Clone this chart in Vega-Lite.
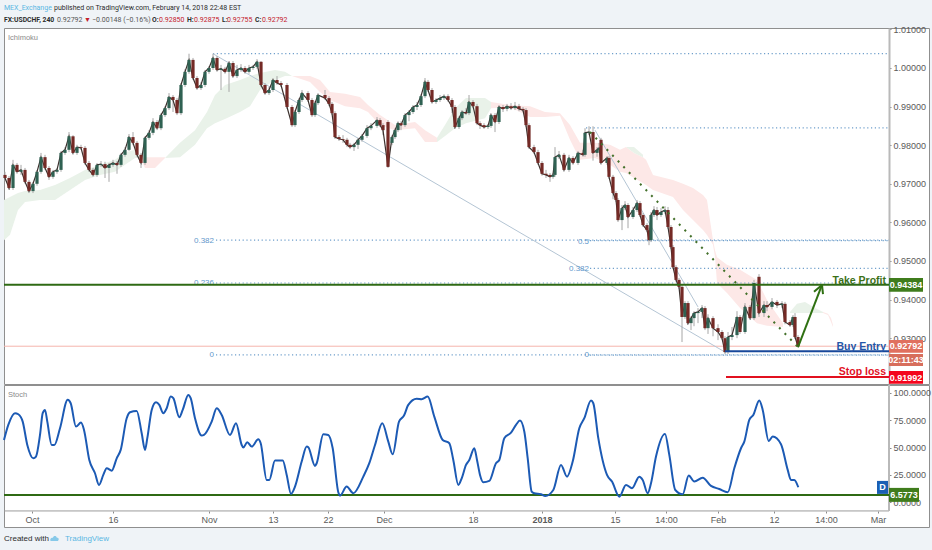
{
  "$schema": "https://vega.github.io/schema/vega-lite/v6.json",
  "background": "#eff3f7",
  "padding": {"left": -1, "top": 0, "right": 3, "bottom": 0},
  "bounds": "flush",
  "spacing": 1,
  "config": {
    "font": "Liberation Sans",
    "axis": {"labelFont": "Liberation Sans", "labelFontSize": 9, "labelColor": "#5a5a5a", "tickColor": "#8a8a8a", "title": null, "grid": false},
    "text": {"font": "Liberation Sans"}
  },
  "datasets": {
    "header": [
      {"pos": 0, "line": 1, "part": "MEX_Exchange", "kind": "user", "weight": "regular"},
      {"pos": 50, "line": 1, "part": "published on TradingView.com, February 14, 2018 22:48 EST", "kind": "plain", "weight": "regular"},
      {"pos": 0, "line": 2, "part": "FX:USDCHF, 240", "kind": "plain", "weight": "bold"},
      {"pos": 53, "line": 2, "part": "0.92792", "kind": "muted", "weight": "regular"},
      {"pos": 80, "line": 2, "part": "▼", "kind": "down", "weight": "regular"},
      {"pos": 88, "line": 2, "part": "−0.00148 (−0.16%)", "kind": "muted", "weight": "regular"},
      {"pos": 148, "line": 2, "part": "O:", "kind": "plain", "weight": "bold"},
      {"pos": 155, "line": 2, "part": "0.92850", "kind": "down", "weight": "regular"},
      {"pos": 183, "line": 2, "part": "H:", "kind": "plain", "weight": "bold"},
      {"pos": 190, "line": 2, "part": "0.92875", "kind": "down", "weight": "regular"},
      {"pos": 218, "line": 2, "part": "L:", "kind": "plain", "weight": "bold"},
      {"pos": 223, "line": 2, "part": "0.92755", "kind": "down", "weight": "regular"},
      {"pos": 251, "line": 2, "part": "C:", "kind": "plain", "weight": "bold"},
      {"pos": 258, "line": 2, "part": "0.92792", "kind": "down", "weight": "regular"}
    ],
    "cloud": [
      {"bar": 0, "a": 0.9658, "b": 0.9554, "span": "g1", "tone": "bull"},
      {"bar": 6, "a": 0.9666, "b": 0.9568, "span": "g1", "tone": "bull"},
      {"bar": 14, "a": 0.9676, "b": 0.9632, "span": "g1", "tone": "bull"},
      {"bar": 21, "a": 0.9681, "b": 0.9653, "span": "g1", "tone": "bull"},
      {"bar": 36, "a": 0.9684, "b": 0.9658, "span": "g1", "tone": "bull"},
      {"bar": 51, "a": 0.9697, "b": 0.9658, "span": "g1", "tone": "bull"},
      {"bar": 66, "a": 0.9715, "b": 0.9684, "span": "g1", "tone": "bull"},
      {"bar": 81, "a": 0.9736, "b": 0.971, "span": "g1", "tone": "bull"},
      {"bar": 96, "a": 0.9749, "b": 0.9723, "span": "g1", "tone": "bull"},
      {"bar": 111, "a": 0.9762, "b": 0.9731, "span": "g1", "tone": "bull"},
      {"bar": 121, "a": 0.9782, "b": 0.9749, "span": "g1", "tone": "bull"},
      {"bar": 131, "a": 0.9788, "b": 0.9767, "span": "g1", "tone": "bull"},
      {"bar": 136, "a": 0.9772, "b": 0.9767, "span": "g1", "tone": "bull"},
      {"bar": 136, "a": 0.9767, "b": 0.9767, "span": "r1", "tone": "bear"},
      {"bar": 141, "a": 0.9769, "b": 0.9741, "span": "r1", "tone": "bear"},
      {"bar": 151, "a": 0.9769, "b": 0.9741, "span": "r1", "tone": "bear"},
      {"bar": 161, "a": 0.9769, "b": 0.9767, "span": "r1", "tone": "bear"},
      {"bar": 161, "a": 0.9767, "b": 0.9767, "span": "g2", "tone": "bull"},
      {"bar": 176, "a": 0.9806, "b": 0.9769, "span": "g2", "tone": "bull"},
      {"bar": 191, "a": 0.9839, "b": 0.9801, "span": "g2", "tone": "bull"},
      {"bar": 203, "a": 0.9886, "b": 0.9844, "span": "g2", "tone": "bull"},
      {"bar": 211, "a": 0.993, "b": 0.9857, "span": "g2", "tone": "bull"},
      {"bar": 221, "a": 0.9956, "b": 0.9868, "span": "g2", "tone": "bull"},
      {"bar": 236, "a": 0.9969, "b": 0.9886, "span": "g2", "tone": "bull"},
      {"bar": 246, "a": 0.9979, "b": 0.9901, "span": "g2", "tone": "bull"},
      {"bar": 256, "a": 0.9987, "b": 0.9943, "span": "g2", "tone": "bull"},
      {"bar": 271, "a": 0.9995, "b": 0.9969, "span": "g2", "tone": "bull"},
      {"bar": 281, "a": 0.999, "b": 0.9979, "span": "g2", "tone": "bull"},
      {"bar": 288, "a": 0.9979, "b": 0.9979, "span": "g2", "tone": "bull"},
      {"bar": 288, "a": 0.9979, "b": 0.9979, "span": "r2", "tone": "bear"},
      {"bar": 306, "a": 0.9979, "b": 0.9964, "span": "r2", "tone": "bear"},
      {"bar": 316, "a": 0.9969, "b": 0.9938, "span": "r2", "tone": "bear"},
      {"bar": 326, "a": 0.9938, "b": 0.9917, "span": "r2", "tone": "bear"},
      {"bar": 341, "a": 0.9933, "b": 0.9901, "span": "r2", "tone": "bear"},
      {"bar": 356, "a": 0.9925, "b": 0.9896, "span": "r2", "tone": "bear"},
      {"bar": 364, "a": 0.9904, "b": 0.9886, "span": "r2", "tone": "bear"},
      {"bar": 376, "a": 0.9878, "b": 0.9852, "span": "r2", "tone": "bear"},
      {"bar": 391, "a": 0.9852, "b": 0.9839, "span": "r2", "tone": "bear"},
      {"bar": 411, "a": 0.986, "b": 0.9844, "span": "r2", "tone": "bear"},
      {"bar": 421, "a": 0.9839, "b": 0.9808, "span": "r2", "tone": "bear"},
      {"bar": 433, "a": 0.9819, "b": 0.9808, "span": "r2", "tone": "bear"},
      {"bar": 433, "a": 0.9819, "b": 0.9808, "span": "g3", "tone": "bull"},
      {"bar": 441, "a": 0.9852, "b": 0.9824, "span": "g3", "tone": "bull"},
      {"bar": 451, "a": 0.9896, "b": 0.9844, "span": "g3", "tone": "bull"},
      {"bar": 462, "a": 0.9922, "b": 0.9857, "span": "g3", "tone": "bull"},
      {"bar": 481, "a": 0.9922, "b": 0.987, "span": "g3", "tone": "bull"},
      {"bar": 487, "a": 0.9912, "b": 0.9896, "span": "g3", "tone": "bull"},
      {"bar": 487, "a": 0.9912, "b": 0.9896, "span": "r3", "tone": "bear"},
      {"bar": 506, "a": 0.9904, "b": 0.9899, "span": "r3", "tone": "bear"},
      {"bar": 526, "a": 0.9901, "b": 0.9873, "span": "r3", "tone": "bear"},
      {"bar": 541, "a": 0.9886, "b": 0.9873, "span": "r3", "tone": "bear"},
      {"bar": 556, "a": 0.9883, "b": 0.9876, "span": "r3", "tone": "bear"},
      {"bar": 566, "a": 0.9852, "b": 0.9814, "span": "r3", "tone": "bear"},
      {"bar": 576, "a": 0.9806, "b": 0.9762, "span": "r3", "tone": "bear"},
      {"bar": 591, "a": 0.9806, "b": 0.9767, "span": "r3", "tone": "bear"},
      {"bar": 606, "a": 0.9801, "b": 0.9749, "span": "r3", "tone": "bear"},
      {"bar": 616, "a": 0.9788, "b": 0.9731, "span": "r3", "tone": "bear"},
      {"bar": 622, "a": 0.9795, "b": 0.9728, "span": "r3", "tone": "bear"},
      {"bar": 630, "a": 0.978, "b": 0.9715, "span": "r3", "tone": "bear"},
      {"bar": 639, "a": 0.9769, "b": 0.9702, "span": "r3", "tone": "bear"},
      {"bar": 642, "a": 0.9762, "b": 0.9697, "span": "r3", "tone": "bear"},
      {"bar": 649, "a": 0.9723, "b": 0.9684, "span": "r3", "tone": "bear"},
      {"bar": 669, "a": 0.971, "b": 0.9666, "span": "r3", "tone": "bear"},
      {"bar": 679, "a": 0.97, "b": 0.9632, "span": "r3", "tone": "bear"},
      {"bar": 689, "a": 0.9689, "b": 0.9606, "span": "r3", "tone": "bear"},
      {"bar": 699, "a": 0.9671, "b": 0.958, "span": "r3", "tone": "bear"},
      {"bar": 703, "a": 0.9658, "b": 0.9567, "span": "r3", "tone": "bear"},
      {"bar": 709, "a": 0.9554, "b": 0.9542, "span": "r3", "tone": "bear"},
      {"bar": 711, "a": 0.9528, "b": 0.951, "span": "r3", "tone": "bear"},
      {"bar": 713, "a": 0.951, "b": 0.9443, "span": "r3", "tone": "bear"},
      {"bar": 723, "a": 0.949, "b": 0.9417, "span": "r3", "tone": "bear"},
      {"bar": 736, "a": 0.9477, "b": 0.9378, "span": "r3", "tone": "bear"},
      {"bar": 753, "a": 0.9451, "b": 0.9339, "span": "r3", "tone": "bear"},
      {"bar": 763, "a": 0.9399, "b": 0.9332, "span": "r3", "tone": "bear"},
      {"bar": 779, "a": 0.9339, "b": 0.9329, "span": "r3", "tone": "bear"},
      {"bar": 622, "a": 0.9795, "b": 0.9795, "span": "g4", "tone": "bull"},
      {"bar": 630, "a": 0.9795, "b": 0.978, "span": "g4", "tone": "bull"},
      {"bar": 639, "a": 0.9775, "b": 0.9769, "span": "g4", "tone": "bull"},
      {"bar": 786, "a": 0.9368, "b": 0.9365, "span": "g5", "tone": "bull"},
      {"bar": 793, "a": 0.9389, "b": 0.9365, "span": "g5", "tone": "bull"},
      {"bar": 801, "a": 0.9394, "b": 0.9365, "span": "g5", "tone": "bull"},
      {"bar": 811, "a": 0.9378, "b": 0.9365, "span": "g5", "tone": "bull"},
      {"bar": 819, "a": 0.9368, "b": 0.9365, "span": "g5", "tone": "bull"},
      {"bar": 819, "a": 0.9368, "b": 0.9365, "span": "r4", "tone": "bear"},
      {"bar": 824, "a": 0.9363, "b": 0.936, "span": "r4", "tone": "bear"},
      {"bar": 827, "a": 0.9352, "b": 0.9342, "span": "r4", "tone": "bear"},
      {"bar": 829, "a": 0.9334, "b": 0.9329, "span": "r4", "tone": "bear"}
    ],
    "candles": [
      {"bar": 1, "o": 0.9723, "h": 0.9731, "l": 0.9707, "c": 0.9715},
      {"bar": 5, "o": 0.9715, "h": 0.972, "l": 0.9684, "c": 0.9689},
      {"bar": 9, "o": 0.9689, "h": 0.9762, "l": 0.9684, "c": 0.9749},
      {"bar": 13, "o": 0.9749, "h": 0.9754, "l": 0.9726, "c": 0.9731},
      {"bar": 17, "o": 0.9731, "h": 0.9749, "l": 0.9723, "c": 0.9736},
      {"bar": 21, "o": 0.9736, "h": 0.9741, "l": 0.97, "c": 0.9705},
      {"bar": 25, "o": 0.9705, "h": 0.971, "l": 0.9676, "c": 0.9681},
      {"bar": 29, "o": 0.9681, "h": 0.9705, "l": 0.9676, "c": 0.97},
      {"bar": 33, "o": 0.97, "h": 0.9736, "l": 0.9695, "c": 0.9731},
      {"bar": 37, "o": 0.9731, "h": 0.978, "l": 0.9726, "c": 0.9769},
      {"bar": 41, "o": 0.9769, "h": 0.9775, "l": 0.9736, "c": 0.9741},
      {"bar": 45, "o": 0.9741, "h": 0.9746, "l": 0.971, "c": 0.9718},
      {"bar": 49, "o": 0.9718, "h": 0.9736, "l": 0.9713, "c": 0.9731},
      {"bar": 53, "o": 0.9731, "h": 0.9741, "l": 0.9726, "c": 0.9736},
      {"bar": 57, "o": 0.9736, "h": 0.9785, "l": 0.9731, "c": 0.978},
      {"bar": 61, "o": 0.978, "h": 0.9795, "l": 0.9775, "c": 0.9788},
      {"bar": 65, "o": 0.9788, "h": 0.9834, "l": 0.9782, "c": 0.9823},
      {"bar": 69, "o": 0.9823, "h": 0.9826, "l": 0.9775, "c": 0.978},
      {"bar": 73, "o": 0.978, "h": 0.9801, "l": 0.9775, "c": 0.9795},
      {"bar": 77, "o": 0.9795, "h": 0.9801, "l": 0.9788, "c": 0.9793},
      {"bar": 81, "o": 0.9793, "h": 0.9798, "l": 0.9749, "c": 0.9754},
      {"bar": 85, "o": 0.9754, "h": 0.9759, "l": 0.9731, "c": 0.9736},
      {"bar": 89, "o": 0.9736, "h": 0.9741, "l": 0.9718, "c": 0.9723},
      {"bar": 93, "o": 0.9723, "h": 0.9754, "l": 0.9718, "c": 0.9749},
      {"bar": 97, "o": 0.9749, "h": 0.9759, "l": 0.9744, "c": 0.9751},
      {"bar": 101, "o": 0.9751, "h": 0.9757, "l": 0.9715, "c": 0.9741},
      {"bar": 105, "o": 0.9741, "h": 0.9754, "l": 0.9705, "c": 0.9749},
      {"bar": 109, "o": 0.9749, "h": 0.9762, "l": 0.9744, "c": 0.9754},
      {"bar": 113, "o": 0.9754, "h": 0.9759, "l": 0.9726, "c": 0.9749},
      {"bar": 117, "o": 0.9749, "h": 0.978, "l": 0.9744, "c": 0.9775},
      {"bar": 121, "o": 0.9775, "h": 0.9795, "l": 0.977, "c": 0.9788},
      {"bar": 125, "o": 0.9788, "h": 0.9829, "l": 0.9785, "c": 0.9821},
      {"bar": 129, "o": 0.9821, "h": 0.9834, "l": 0.98, "c": 0.9806},
      {"bar": 133, "o": 0.9806, "h": 0.9811, "l": 0.977, "c": 0.9775},
      {"bar": 137, "o": 0.9775, "h": 0.978, "l": 0.9741, "c": 0.9754},
      {"bar": 141, "o": 0.9754, "h": 0.9823, "l": 0.9749, "c": 0.9819},
      {"bar": 145, "o": 0.9819, "h": 0.9839, "l": 0.9814, "c": 0.9832},
      {"bar": 149, "o": 0.9832, "h": 0.987, "l": 0.9826, "c": 0.986},
      {"bar": 153, "o": 0.986, "h": 0.9865, "l": 0.9839, "c": 0.9844},
      {"bar": 157, "o": 0.9844, "h": 0.9883, "l": 0.9839, "c": 0.9878},
      {"bar": 161, "o": 0.9878, "h": 0.9901, "l": 0.9873, "c": 0.9896},
      {"bar": 165, "o": 0.9896, "h": 0.9935, "l": 0.9891, "c": 0.9925},
      {"bar": 169, "o": 0.9925, "h": 0.993, "l": 0.9886, "c": 0.9917},
      {"bar": 173, "o": 0.9917, "h": 0.9922, "l": 0.9878, "c": 0.9883},
      {"bar": 177, "o": 0.9883, "h": 0.9961, "l": 0.9878, "c": 0.9956},
      {"bar": 181, "o": 0.9956, "h": 0.9997, "l": 0.9951, "c": 0.999},
      {"bar": 185, "o": 0.999, "h": 1.0037, "l": 0.9985, "c": 1.0021},
      {"bar": 189, "o": 1.0021, "h": 1.0026, "l": 0.9969, "c": 0.9974},
      {"bar": 193, "o": 0.9974, "h": 0.9979, "l": 0.9943, "c": 0.9948},
      {"bar": 197, "o": 0.9948, "h": 0.9964, "l": 0.9943, "c": 0.9956},
      {"bar": 201, "o": 0.9956, "h": 0.9995, "l": 0.9951, "c": 0.999},
      {"bar": 205, "o": 0.999, "h": 1.0005, "l": 0.9985, "c": 1},
      {"bar": 209, "o": 1, "h": 1.0037, "l": 0.9995, "c": 1.0026},
      {"bar": 213, "o": 1.0026, "h": 1.0031, "l": 0.999, "c": 0.9995},
      {"bar": 217, "o": 0.9995, "h": 1.0008, "l": 0.9943, "c": 0.9998},
      {"bar": 221, "o": 0.9998, "h": 1.0003, "l": 0.9985, "c": 0.999},
      {"bar": 225, "o": 0.999, "h": 1.0018, "l": 0.9938, "c": 1.0013},
      {"bar": 229, "o": 1.0013, "h": 1.0018, "l": 0.9974, "c": 0.9979},
      {"bar": 233, "o": 0.9979, "h": 1.0008, "l": 0.9974, "c": 0.9995},
      {"bar": 237, "o": 0.9995, "h": 1.001, "l": 0.999, "c": 1},
      {"bar": 241, "o": 1, "h": 1.0005, "l": 0.9985, "c": 0.999},
      {"bar": 245, "o": 0.999, "h": 1.0008, "l": 0.9985, "c": 1},
      {"bar": 249, "o": 1, "h": 1.0008, "l": 0.9995, "c": 1.0003},
      {"bar": 253, "o": 1.0003, "h": 1.0023, "l": 0.9998, "c": 1.0016},
      {"bar": 257, "o": 1.0016, "h": 1.0018, "l": 0.9951, "c": 0.9956},
      {"bar": 261, "o": 0.9956, "h": 0.9961, "l": 0.993, "c": 0.9935},
      {"bar": 265, "o": 0.9935, "h": 0.9951, "l": 0.993, "c": 0.9943},
      {"bar": 269, "o": 0.9943, "h": 0.9974, "l": 0.9938, "c": 0.9969},
      {"bar": 273, "o": 0.9969, "h": 0.9979, "l": 0.9956, "c": 0.9961},
      {"bar": 277, "o": 0.9961, "h": 0.9966, "l": 0.9951, "c": 0.9956},
      {"bar": 283, "o": 0.9956, "h": 0.9961, "l": 0.9894, "c": 0.9899},
      {"bar": 288, "o": 0.9899, "h": 0.9904, "l": 0.9847, "c": 0.9852},
      {"bar": 291, "o": 0.9852, "h": 0.9891, "l": 0.9847, "c": 0.9886},
      {"bar": 295, "o": 0.9886, "h": 0.9922, "l": 0.9881, "c": 0.9917},
      {"bar": 298, "o": 0.9917, "h": 0.9943, "l": 0.9912, "c": 0.9935},
      {"bar": 304, "o": 0.9935, "h": 0.994, "l": 0.9912, "c": 0.9917},
      {"bar": 308, "o": 0.9917, "h": 0.9922, "l": 0.9873, "c": 0.9878},
      {"bar": 311, "o": 0.9878, "h": 0.9914, "l": 0.9873, "c": 0.9909},
      {"bar": 314, "o": 0.9909, "h": 0.9935, "l": 0.9904, "c": 0.993},
      {"bar": 321, "o": 0.993, "h": 0.9943, "l": 0.9917, "c": 0.9922},
      {"bar": 325, "o": 0.9922, "h": 0.9927, "l": 0.9901, "c": 0.9907},
      {"bar": 328, "o": 0.9907, "h": 0.9912, "l": 0.9878, "c": 0.9883},
      {"bar": 331, "o": 0.9883, "h": 0.9888, "l": 0.9816, "c": 0.9821},
      {"bar": 335, "o": 0.9821, "h": 0.9826, "l": 0.9811, "c": 0.9816},
      {"bar": 339, "o": 0.9816, "h": 0.9826, "l": 0.9806, "c": 0.9814},
      {"bar": 343, "o": 0.9814, "h": 0.9819, "l": 0.9795, "c": 0.9801},
      {"bar": 346, "o": 0.9801, "h": 0.9806, "l": 0.979, "c": 0.9795},
      {"bar": 350, "o": 0.9795, "h": 0.9806, "l": 0.9785, "c": 0.9801},
      {"bar": 354, "o": 0.9801, "h": 0.9819, "l": 0.979, "c": 0.9814},
      {"bar": 358, "o": 0.9814, "h": 0.9829, "l": 0.9809, "c": 0.9824},
      {"bar": 363, "o": 0.9824, "h": 0.9852, "l": 0.9819, "c": 0.9844},
      {"bar": 367, "o": 0.9844, "h": 0.9857, "l": 0.9839, "c": 0.985},
      {"bar": 373, "o": 0.985, "h": 0.9873, "l": 0.9845, "c": 0.9865},
      {"bar": 376, "o": 0.9865, "h": 0.987, "l": 0.9847, "c": 0.9852},
      {"bar": 379, "o": 0.9852, "h": 0.9857, "l": 0.9826, "c": 0.9839},
      {"bar": 384, "o": 0.986, "h": 0.9865, "l": 0.9741, "c": 0.9744},
      {"bar": 388, "o": 0.9806, "h": 0.9826, "l": 0.98, "c": 0.9821},
      {"bar": 391, "o": 0.9821, "h": 0.9844, "l": 0.9816, "c": 0.9839},
      {"bar": 394, "o": 0.9839, "h": 0.9862, "l": 0.9834, "c": 0.9857},
      {"bar": 397, "o": 0.9857, "h": 0.9862, "l": 0.9839, "c": 0.9852},
      {"bar": 401, "o": 0.9852, "h": 0.9883, "l": 0.9847, "c": 0.9878},
      {"bar": 405, "o": 0.9878, "h": 0.9891, "l": 0.9862, "c": 0.9886},
      {"bar": 409, "o": 0.9886, "h": 0.9904, "l": 0.9881, "c": 0.9899},
      {"bar": 413, "o": 0.9899, "h": 0.9912, "l": 0.9891, "c": 0.9904},
      {"bar": 417, "o": 0.9904, "h": 0.9932, "l": 0.9899, "c": 0.9927},
      {"bar": 421, "o": 0.9927, "h": 0.9974, "l": 0.9922, "c": 0.9964},
      {"bar": 424, "o": 0.9964, "h": 0.9969, "l": 0.9938, "c": 0.9943},
      {"bar": 428, "o": 0.9943, "h": 0.9948, "l": 0.9907, "c": 0.9912},
      {"bar": 432, "o": 0.9912, "h": 0.9922, "l": 0.9907, "c": 0.9917},
      {"bar": 436, "o": 0.9917, "h": 0.993, "l": 0.9912, "c": 0.9922},
      {"bar": 440, "o": 0.9922, "h": 0.9932, "l": 0.9917, "c": 0.9927},
      {"bar": 444, "o": 0.9927, "h": 0.9932, "l": 0.9912, "c": 0.9917},
      {"bar": 448, "o": 0.9917, "h": 0.9922, "l": 0.9883, "c": 0.9899},
      {"bar": 451, "o": 0.9899, "h": 0.9904, "l": 0.9842, "c": 0.9847},
      {"bar": 455, "o": 0.9847, "h": 0.9875, "l": 0.9842, "c": 0.987},
      {"bar": 458, "o": 0.987, "h": 0.9891, "l": 0.9865, "c": 0.9886},
      {"bar": 462, "o": 0.9886, "h": 0.9896, "l": 0.9878, "c": 0.9883},
      {"bar": 465, "o": 0.9883, "h": 0.993, "l": 0.9878, "c": 0.9912},
      {"bar": 469, "o": 0.9912, "h": 0.9917, "l": 0.9896, "c": 0.9901},
      {"bar": 473, "o": 0.9901, "h": 0.9907, "l": 0.9852, "c": 0.9857},
      {"bar": 476, "o": 0.9857, "h": 0.9862, "l": 0.9842, "c": 0.9852},
      {"bar": 480, "o": 0.9852, "h": 0.9857, "l": 0.9842, "c": 0.9847},
      {"bar": 484, "o": 0.9847, "h": 0.9855, "l": 0.9842, "c": 0.985},
      {"bar": 487, "o": 0.985, "h": 0.9883, "l": 0.9845, "c": 0.9878},
      {"bar": 491, "o": 0.9878, "h": 0.9883, "l": 0.9834, "c": 0.986},
      {"bar": 495, "o": 0.986, "h": 0.9904, "l": 0.9855, "c": 0.9899},
      {"bar": 499, "o": 0.9899, "h": 0.9904, "l": 0.9886, "c": 0.9894},
      {"bar": 503, "o": 0.9894, "h": 0.9907, "l": 0.9888, "c": 0.9901},
      {"bar": 507, "o": 0.9901, "h": 0.9909, "l": 0.9891, "c": 0.9896},
      {"bar": 511, "o": 0.9896, "h": 0.9912, "l": 0.9891, "c": 0.9901},
      {"bar": 515, "o": 0.9901, "h": 0.9907, "l": 0.9888, "c": 0.9894},
      {"bar": 519, "o": 0.9894, "h": 0.9899, "l": 0.9886, "c": 0.9891},
      {"bar": 522, "o": 0.9891, "h": 0.9896, "l": 0.9847, "c": 0.9852},
      {"bar": 525, "o": 0.9852, "h": 0.9857, "l": 0.979, "c": 0.9795},
      {"bar": 530, "o": 0.9795, "h": 0.9801, "l": 0.9777, "c": 0.9782},
      {"bar": 534, "o": 0.9782, "h": 0.9788, "l": 0.9749, "c": 0.9754},
      {"bar": 538, "o": 0.9754, "h": 0.9759, "l": 0.9721, "c": 0.9726},
      {"bar": 542, "o": 0.9726, "h": 0.9736, "l": 0.9715, "c": 0.9723},
      {"bar": 546, "o": 0.9723, "h": 0.9728, "l": 0.9705, "c": 0.9718},
      {"bar": 549, "o": 0.9718, "h": 0.9728, "l": 0.9713, "c": 0.9723},
      {"bar": 551, "o": 0.9723, "h": 0.9795, "l": 0.9718, "c": 0.9769},
      {"bar": 555, "o": 0.9769, "h": 0.9785, "l": 0.9764, "c": 0.9775},
      {"bar": 560, "o": 0.9775, "h": 0.978, "l": 0.9731, "c": 0.9736},
      {"bar": 565, "o": 0.9736, "h": 0.9775, "l": 0.9731, "c": 0.9767},
      {"bar": 569, "o": 0.9767, "h": 0.9772, "l": 0.9749, "c": 0.9754},
      {"bar": 574, "o": 0.9754, "h": 0.9785, "l": 0.9749, "c": 0.978},
      {"bar": 579, "o": 0.978, "h": 0.9788, "l": 0.977, "c": 0.9775},
      {"bar": 581, "o": 0.9775, "h": 0.9844, "l": 0.977, "c": 0.9832},
      {"bar": 585, "o": 0.9832, "h": 0.9849, "l": 0.9826, "c": 0.9834},
      {"bar": 589, "o": 0.9834, "h": 0.9849, "l": 0.976, "c": 0.978},
      {"bar": 593, "o": 0.978, "h": 0.9795, "l": 0.977, "c": 0.9788},
      {"bar": 595, "o": 0.9788, "h": 0.9806, "l": 0.9782, "c": 0.9793},
      {"bar": 597, "o": 0.9814, "h": 0.9819, "l": 0.9749, "c": 0.9754},
      {"bar": 603, "o": 0.9754, "h": 0.9772, "l": 0.9749, "c": 0.9767},
      {"bar": 605, "o": 0.9767, "h": 0.9772, "l": 0.9713, "c": 0.9718},
      {"bar": 609, "o": 0.9718, "h": 0.9723, "l": 0.966, "c": 0.9676},
      {"bar": 612, "o": 0.9676, "h": 0.9681, "l": 0.9653, "c": 0.9658},
      {"bar": 614, "o": 0.9658, "h": 0.9663, "l": 0.9601, "c": 0.9606},
      {"bar": 618, "o": 0.9606, "h": 0.9645, "l": 0.958, "c": 0.9637},
      {"bar": 621, "o": 0.9637, "h": 0.9655, "l": 0.9632, "c": 0.9645},
      {"bar": 624, "o": 0.9645, "h": 0.965, "l": 0.9585, "c": 0.9614},
      {"bar": 629, "o": 0.9614, "h": 0.964, "l": 0.9609, "c": 0.9632},
      {"bar": 633, "o": 0.9632, "h": 0.9658, "l": 0.9627, "c": 0.965},
      {"bar": 636, "o": 0.965, "h": 0.9655, "l": 0.9614, "c": 0.9619},
      {"bar": 639, "o": 0.9619, "h": 0.9624, "l": 0.9588, "c": 0.9593},
      {"bar": 643, "o": 0.9593, "h": 0.9598, "l": 0.9575, "c": 0.958},
      {"bar": 645, "o": 0.958, "h": 0.9585, "l": 0.9541, "c": 0.9554},
      {"bar": 647, "o": 0.9554, "h": 0.9627, "l": 0.9549, "c": 0.9619},
      {"bar": 650, "o": 0.9619, "h": 0.9642, "l": 0.9614, "c": 0.9632},
      {"bar": 653, "o": 0.9632, "h": 0.964, "l": 0.9606, "c": 0.9619},
      {"bar": 657, "o": 0.9619, "h": 0.9637, "l": 0.9614, "c": 0.9627},
      {"bar": 661, "o": 0.9627, "h": 0.9642, "l": 0.9622, "c": 0.9632},
      {"bar": 664, "o": 0.9632, "h": 0.964, "l": 0.9583, "c": 0.9588},
      {"bar": 667, "o": 0.9588, "h": 0.9593, "l": 0.9531, "c": 0.9536},
      {"bar": 669, "o": 0.9536, "h": 0.9541, "l": 0.9479, "c": 0.9484},
      {"bar": 672, "o": 0.9484, "h": 0.9489, "l": 0.9446, "c": 0.9451},
      {"bar": 675, "o": 0.9451, "h": 0.9456, "l": 0.9428, "c": 0.9433},
      {"bar": 678, "o": 0.9433, "h": 0.9438, "l": 0.929, "c": 0.9355},
      {"bar": 681, "o": 0.9355, "h": 0.9396, "l": 0.935, "c": 0.9391},
      {"bar": 684, "o": 0.9391, "h": 0.9396, "l": 0.9334, "c": 0.9339},
      {"bar": 687, "o": 0.9339, "h": 0.9357, "l": 0.9321, "c": 0.9352},
      {"bar": 690, "o": 0.9352, "h": 0.937, "l": 0.9331, "c": 0.9365},
      {"bar": 694, "o": 0.9365, "h": 0.9378, "l": 0.9339, "c": 0.9368},
      {"bar": 698, "o": 0.9368, "h": 0.9386, "l": 0.9352, "c": 0.9378},
      {"bar": 701, "o": 0.9378, "h": 0.9383, "l": 0.9321, "c": 0.9326},
      {"bar": 704, "o": 0.9326, "h": 0.9362, "l": 0.9311, "c": 0.9352},
      {"bar": 709, "o": 0.9352, "h": 0.9357, "l": 0.9305, "c": 0.9326},
      {"bar": 714, "o": 0.9326, "h": 0.9336, "l": 0.9295, "c": 0.9316},
      {"bar": 718, "o": 0.9316, "h": 0.9321, "l": 0.9295, "c": 0.93},
      {"bar": 721, "o": 0.93, "h": 0.9305, "l": 0.9259, "c": 0.9264},
      {"bar": 724, "o": 0.9264, "h": 0.9316, "l": 0.9259, "c": 0.9303},
      {"bar": 728, "o": 0.9303, "h": 0.9329, "l": 0.9295, "c": 0.9308},
      {"bar": 733, "o": 0.9308, "h": 0.937, "l": 0.93, "c": 0.9355},
      {"bar": 736, "o": 0.9355, "h": 0.936, "l": 0.9311, "c": 0.9316},
      {"bar": 741, "o": 0.9316, "h": 0.9391, "l": 0.9311, "c": 0.9381},
      {"bar": 746, "o": 0.9381, "h": 0.9386, "l": 0.9347, "c": 0.9352},
      {"bar": 750, "o": 0.9352, "h": 0.9451, "l": 0.9347, "c": 0.9443},
      {"bar": 755, "o": 0.9459, "h": 0.9466, "l": 0.9355, "c": 0.9365},
      {"bar": 760, "o": 0.9365, "h": 0.9396, "l": 0.9355, "c": 0.9386},
      {"bar": 763, "o": 0.9386, "h": 0.9396, "l": 0.937, "c": 0.9381},
      {"bar": 768, "o": 0.9381, "h": 0.9404, "l": 0.9375, "c": 0.9394},
      {"bar": 773, "o": 0.9394, "h": 0.9399, "l": 0.9378, "c": 0.9386},
      {"bar": 778, "o": 0.9386, "h": 0.9396, "l": 0.9378, "c": 0.9389},
      {"bar": 781, "o": 0.9389, "h": 0.9394, "l": 0.9336, "c": 0.9342},
      {"bar": 786, "o": 0.9342, "h": 0.9347, "l": 0.9329, "c": 0.9334},
      {"bar": 789, "o": 0.9334, "h": 0.936, "l": 0.9329, "c": 0.9355},
      {"bar": 791, "o": 0.9355, "h": 0.9365, "l": 0.9298, "c": 0.9303},
      {"bar": 794, "o": 0.9303, "h": 0.9308, "l": 0.9275, "c": 0.9279}
    ],
    "levels": [
      {"from": 209, "to": 885, "price": 1.0037},
      {"from": 582, "to": 885, "price": 0.9845},
      {"from": 212, "to": 885, "price": 0.9554},
      {"from": 212, "to": 885, "price": 0.9443},
      {"from": 212, "to": 885, "price": 0.9257},
      {"from": 586, "to": 885, "price": 0.9553},
      {"from": 586, "to": 885, "price": 0.9481},
      {"from": 586, "to": 885, "price": 0.9256}
    ],
    "fibLabels": [
      {"bar": 210, "price": 0.9553, "label": "0.382"},
      {"bar": 210, "price": 0.9442, "label": "0.236"},
      {"bar": 210, "price": 0.9256, "label": "0"},
      {"bar": 585, "price": 0.9548, "label": "0.5"},
      {"bar": 585, "price": 0.9479, "label": "0.382"},
      {"bar": 585, "price": 0.9256, "label": "0"}
    ],
    "trend": [
      {"from": 209, "to": 721, "p1": 1.0037, "p2": 0.9264},
      {"from": 591, "to": 694, "p1": 0.9839, "p2": 0.9381}
    ],
    "arrow": [
      {"from": 794, "to": 818, "p1": 0.9277, "p2": 0.9438},
      {"from": 810, "to": 818, "p1": 0.942, "p2": 0.9438},
      {"from": 819, "to": 818, "p1": 0.9414, "p2": 0.9438}
    ],
    "tags": [
      {"tag": "0.94384", "from": 885, "to": 919, "center": 902, "top": 0.9456, "bottom": 0.942, "mid": 0.9438},
      {"tag": "0.92792", "from": 885, "to": 919, "center": 902, "top": 0.9295, "bottom": 0.9262, "mid": 0.9279},
      {"tag": "02:11:43", "from": 885, "to": 919, "center": 902, "top": 0.9259, "bottom": 0.9228, "mid": 0.9243},
      {"tag": "0.91992", "from": 885, "to": 919, "center": 902, "top": 0.9215, "bottom": 0.9182, "mid": 0.9198}
    ],
    "stoch": [
      {"bar": 0, "k": 57}, {"bar": 4.3, "k": 70.8}, {"bar": 11, "k": 81.5}, {"bar": 14.3, "k": 80.5}, {"bar": 18.7, "k": 73.8},
      {"bar": 23.3, "k": 52.4}, {"bar": 29.3, "k": 40.2}, {"bar": 32, "k": 41.8}, {"bar": 36, "k": 61.6}, {"bar": 38.7, "k": 81.5},
      {"bar": 41, "k": 84.5}, {"bar": 43.3, "k": 73.8}, {"bar": 47.7, "k": 52.4}, {"bar": 50.3, "k": 52.4}, {"bar": 56, "k": 67.7},
      {"bar": 63.7, "k": 93.7}, {"bar": 66.7, "k": 90.6}, {"bar": 72, "k": 69.2}, {"bar": 77, "k": 72.9}, {"bar": 80, "k": 66.2},
      {"bar": 85.3, "k": 38.7}, {"bar": 91, "k": 26.5}, {"bar": 95, "k": 15.8}, {"bar": 99.3, "k": 25}, {"bar": 102.7, "k": 31.1},
      {"bar": 107.7, "k": 28.9}, {"bar": 112.7, "k": 40.2}, {"bar": 116.7, "k": 47.9}, {"bar": 122.7, "k": 76.9}, {"bar": 126, "k": 82.4},
      {"bar": 132.7, "k": 83.6}, {"bar": 137.7, "k": 63.1}, {"bar": 141, "k": 47.9}, {"bar": 143.3, "k": 58.6}, {"bar": 147.7, "k": 84.5},
      {"bar": 152, "k": 91.5}, {"bar": 155.3, "k": 89.1}, {"bar": 159.3, "k": 81.5}, {"bar": 162.7, "k": 86}, {"bar": 166.7, "k": 96.7},
      {"bar": 169.3, "k": 95.2}, {"bar": 175.3, "k": 77.8}, {"bar": 178.7, "k": 84.5}, {"bar": 184.3, "k": 98.2}, {"bar": 186.7, "k": 95.2},
      {"bar": 191, "k": 76.9}, {"bar": 197.7, "k": 61}, {"bar": 200, "k": 61.6}, {"bar": 207.7, "k": 73.8}, {"bar": 212.7, "k": 86},
      {"bar": 217.7, "k": 79.9}, {"bar": 226, "k": 61.6}, {"bar": 232, "k": 72.3}, {"bar": 237.7, "k": 52.4}, {"bar": 239.3, "k": 50},
      {"bar": 243.3, "k": 54.9}, {"bar": 247.7, "k": 50.9}, {"bar": 254.3, "k": 57.6}, {"bar": 256.7, "k": 54}, {"bar": 262.7, "k": 20.4},
      {"bar": 265.3, "k": 20.4}, {"bar": 271, "k": 38.1}, {"bar": 278.7, "k": 38.1}, {"bar": 282.7, "k": 25}, {"bar": 287, "k": 7.6},
      {"bar": 291, "k": 14.3}, {"bar": 297.7, "k": 37.2}, {"bar": 302.7, "k": 50.9}, {"bar": 304.3, "k": 50.3}, {"bar": 311, "k": 33.2},
      {"bar": 312.7, "k": 35.7}, {"bar": 319.3, "k": 62.2}, {"bar": 324.3, "k": 61.6}, {"bar": 328.7, "k": 49.4}, {"bar": 334.3, "k": 9.1},
      {"bar": 336, "k": 6}, {"bar": 342.7, "k": 14.3}, {"bar": 349.3, "k": 8.2}, {"bar": 359.3, "k": 23.4}, {"bar": 365.3, "k": 35.7},
      {"bar": 371, "k": 52.4}, {"bar": 378.3, "k": 72.3}, {"bar": 384.3, "k": 55.5}, {"bar": 388.7, "k": 43.9}, {"bar": 395, "k": 73.8},
      {"bar": 400, "k": 79.3}, {"bar": 404.3, "k": 89.1}, {"bar": 412.7, "k": 94.6}, {"bar": 417.7, "k": 94.3}, {"bar": 423.7, "k": 96.7},
      {"bar": 430.3, "k": 78.4}, {"bar": 438.7, "k": 57}, {"bar": 445.3, "k": 54}, {"bar": 449.3, "k": 38.7}, {"bar": 454.3, "k": 15.8},
      {"bar": 457.7, "k": 21.9}, {"bar": 462, "k": 34.1}, {"bar": 465.3, "k": 38.7}, {"bar": 470.3, "k": 49.4}, {"bar": 473, "k": 38.7},
      {"bar": 476, "k": 25}, {"bar": 479.3, "k": 18.3}, {"bar": 485.3, "k": 19.5}, {"bar": 492, "k": 35.7}, {"bar": 495.3, "k": 38.7},
      {"bar": 500.3, "k": 58.6}, {"bar": 507, "k": 63.7}, {"bar": 512, "k": 70.8}, {"bar": 516, "k": 74.7}, {"bar": 520.3, "k": 64.7},
      {"bar": 523.7, "k": 40.2}, {"bar": 527.7, "k": 9.7}, {"bar": 530.3, "k": 8.2}, {"bar": 537, "k": 7.3}, {"bar": 541.3, "k": 5.7},
      {"bar": 549.3, "k": 11.2}, {"bar": 557, "k": 34.1}, {"bar": 563, "k": 23.4}, {"bar": 568.7, "k": 37.2}, {"bar": 575.3, "k": 67.7},
      {"bar": 580.3, "k": 76.9}, {"bar": 587, "k": 93.1}, {"bar": 589.3, "k": 90.6}, {"bar": 594.3, "k": 58.6}, {"bar": 603, "k": 25},
      {"bar": 608, "k": 18.9}, {"bar": 615.3, "k": 5.1}, {"bar": 622, "k": 15.8}, {"bar": 628, "k": 12.8}, {"bar": 635.3, "k": 23.4},
      {"bar": 638.7, "k": 20.4}, {"bar": 643.7, "k": 8.2}, {"bar": 647, "k": 17.3}, {"bar": 652, "k": 41.8}, {"bar": 661, "k": 62.5},
      {"bar": 665.3, "k": 43.3}, {"bar": 671.3, "k": 11.2}, {"bar": 678.7, "k": 7.3}, {"bar": 684.7, "k": 24.4}, {"bar": 690.3, "k": 18.9},
      {"bar": 698.7, "k": 22.5}, {"bar": 707, "k": 14.9}, {"bar": 715.3, "k": 12.1}, {"bar": 723.7, "k": 9.1}, {"bar": 730.3, "k": 31.1},
      {"bar": 737, "k": 49.4}, {"bar": 740.3, "k": 55.5}, {"bar": 745.3, "k": 75.3}, {"bar": 749.3, "k": 79.9}, {"bar": 755.3, "k": 93.1},
      {"bar": 758.7, "k": 84.5}, {"bar": 764.7, "k": 56.1}, {"bar": 768.7, "k": 60.1}, {"bar": 777, "k": 53.1}, {"bar": 783.7, "k": 29.6},
      {"bar": 787, "k": 20.4}, {"bar": 790.3, "k": 20.4}, {"bar": 794.3, "k": 13.7}
    ]
  },
  "vconcat": [
    {
      "width": 925,
      "height": 27,
      "view": {"stroke": null},
      "data": {"name": "header"},
      "encoding": {
        "x": {"field": "pos", "type": "quantitative", "scale": {"domain": [0, 925], "nice": false, "zero": false}, "axis": null},
        "y": {"field": "line", "type": "quantitative", "scale": {"domain": [2.625, 0.375], "nice": false, "zero": false}, "axis": null},
        "text": {"field": "part"},
        "color": {"field": "kind", "type": "nominal", "legend": null, "scale": {"domain": ["user", "plain", "muted", "down"], "range": ["#5ab7e3", "#2b2b2b", "#555555", "#c4202c"]}}
      },
      "layer": [
        {
          "transform": [{"filter": "datum.weight === 'regular'"}],
          "mark": {"type": "text", "align": "left", "baseline": "middle", "font": "Roboto", "fontSize": 7}
        },
        {
          "transform": [{"filter": "datum.weight === 'bold'"}],
          "mark": {"type": "text", "align": "left", "baseline": "middle", "font": "Roboto", "fontSize": 6.8, "fontWeight": "bold"}
        }
      ]
    },
    {
      "width": 925,
      "height": 356,
      "view": {"stroke": "#8f8f8f", "fill": "white"},
      "encoding": {
        "x": {"field": "bar", "type": "quantitative", "scale": {"domain": [0, 925], "nice": false, "zero": false}, "axis": null},
        "y": {
          "field": "price",
          "type": "quantitative",
          "scale": {"domain": [0.91813, 1.01036], "nice": false, "zero": false},
          "axis": {"orient": "right", "offset": -40, "values": [0.93, 0.94, 0.95, 0.96, 0.97, 0.98, 0.99, 1, 1.01], "format": ".5f", "domainColor": "#b9b9b9", "domainWidth": 2, "tickSize": 2, "labelPadding": 2}
        }
      },
      "resolve": {"scale": {"color": "independent"}},
      "layer": [
        {
          "data": {"name": "cloud"},
          "mark": {"type": "area", "orient": "vertical"},
          "encoding": {
            "y": {"field": "a", "type": "quantitative"},
            "y2": {"field": "b"},
            "detail": {"field": "span"},
            "color": {"field": "tone", "type": "nominal", "legend": null, "scale": {"domain": ["bull", "bear"], "range": ["#e9f2e9", "#fde8e7"]}}
          }
        },
        {
          "data": {"values": [{"bar": 0, "to": 885, "price": 0.92792}]},
          "mark": {"type": "rule", "color": "#f5b5ac", "strokeWidth": 1},
          "encoding": {"x2": {"field": "to"}}
        },
        {
          "data": {"name": "levels"},
          "mark": {"type": "rule", "color": "#6f9fcb", "strokeWidth": 1.2, "strokeDash": [1.2, 2.6]},
          "encoding": {"x": {"field": "from", "type": "quantitative"}, "x2": {"field": "to"}}
        },
        {
          "data": {"name": "trend"},
          "mark": {"type": "rule", "color": "#b4c5d4", "strokeWidth": 1},
          "encoding": {"x": {"field": "from", "type": "quantitative"}, "x2": {"field": "to"}, "y": {"field": "p1", "type": "quantitative"}, "y2": {"field": "p2"}}
        },
        {
          "data": {"name": "fibLabels"},
          "mark": {"type": "text", "align": "right", "baseline": "middle", "color": "#5f98cc", "fontSize": 8},
          "encoding": {"text": {"field": "label"}}
        },
        {
          "data": {"name": "candles"},
          "mark": {"type": "rule", "color": "#a6a6a6", "strokeWidth": 1},
          "encoding": {"y": {"field": "h", "type": "quantitative"}, "y2": {"field": "l"}}
        },
        {
          "data": {"name": "candles"},
          "mark": {"type": "line", "color": "#3b302d", "strokeWidth": 1.2},
          "encoding": {"y": {"field": "c", "type": "quantitative"}}
        },
        {
          "data": {"name": "candles"},
          "mark": {"type": "rule", "strokeWidth": 3.2},
          "encoding": {
            "y": {"field": "o", "type": "quantitative"},
            "y2": {"field": "c"},
            "color": {"condition": {"test": "datum.c >= datum.o", "value": "#2f6152"}, "value": "#742a26"}
          }
        },
        {
          "data": {"values": [{"bar": 0, "to": 885, "price": 0.94384}]},
          "mark": {"type": "rule", "color": "#2f6a14", "strokeWidth": 2},
          "encoding": {"x2": {"field": "to"}}
        },
        {
          "data": {"values": [{"bar": 721, "to": 885, "price": 0.9266}]},
          "mark": {"type": "rule", "color": "#17479a", "strokeWidth": 2},
          "encoding": {"x2": {"field": "to"}}
        },
        {
          "data": {"values": [{"bar": 722, "to": 885, "price": 0.91992}]},
          "mark": {"type": "rule", "color": "#e2101f", "strokeWidth": 2},
          "encoding": {"x2": {"field": "to"}}
        },
        {
          "data": {"values": [{"from": 586, "to": 794, "p1": 0.9834, "p2": 0.9277}]},
          "mark": {"type": "rule", "color": "#43702a", "strokeWidth": 2, "strokeDash": [2, 6]},
          "encoding": {"x": {"field": "from", "type": "quantitative"}, "x2": {"field": "to"}, "y": {"field": "p1", "type": "quantitative"}, "y2": {"field": "p2"}}
        },
        {
          "data": {"name": "arrow"},
          "mark": {"type": "rule", "color": "#2f7012", "strokeWidth": 2},
          "encoding": {"x": {"field": "from", "type": "quantitative"}, "x2": {"field": "to"}, "y": {"field": "p1", "type": "quantitative"}, "y2": {"field": "p2"}}
        },
        {
          "data": {"name": "tags"},
          "mark": {"type": "rect"},
          "encoding": {
            "x": {"field": "from", "type": "quantitative"},
            "x2": {"field": "to"},
            "y": {"field": "top", "type": "quantitative"},
            "y2": {"field": "bottom"},
            "color": {"field": "tag", "type": "nominal", "legend": null, "scale": {"domain": ["0.94384", "0.92792", "02:11:43", "0.91992"], "range": ["#3f7c1c", "#e0705f", "#d76e5c", "#f4041c"]}}
          }
        },
        {
          "data": {"name": "tags"},
          "mark": {"type": "text", "align": "center", "baseline": "middle", "color": "white", "fontSize": 9, "fontWeight": "bold"},
          "encoding": {
            "x": {"field": "center", "type": "quantitative"},
            "y": {"field": "mid", "type": "quantitative"},
            "text": {"field": "tag"}
          }
        },
        {
          "data": {"values": [{"bar": 882, "price": 0.9449, "note": "Take Profit"}]},
          "mark": {"type": "text", "align": "right", "baseline": "middle", "color": "#3c7018", "fontSize": 10.5, "fontWeight": "bold"},
          "encoding": {"text": {"field": "note"}}
        },
        {
          "data": {"values": [{"bar": 882, "price": 0.9277, "note": "Buy Entry"}]},
          "mark": {"type": "text", "align": "right", "baseline": "middle", "color": "#2456a8", "fontSize": 10.5, "fontWeight": "bold"},
          "encoding": {"text": {"field": "note"}}
        },
        {
          "data": {"values": [{"bar": 882, "price": 0.9212, "note": "Stop loss"}]},
          "mark": {"type": "text", "align": "right", "baseline": "middle", "color": "#e2101f", "fontSize": 10.5, "fontWeight": "bold"},
          "encoding": {"text": {"field": "note"}}
        },
        {
          "data": {"values": [{"bar": 4, "price": 1.0078, "note": "Ichimoku"}]},
          "mark": {"type": "text", "align": "left", "baseline": "middle", "color": "#8a8a8a", "fontSize": 7.5},
          "encoding": {"text": {"field": "note"}}
        }
      ]
    },
    {
      "width": 925,
      "height": 142,
      "view": {"stroke": "#8f8f8f", "fill": "white"},
      "encoding": {
        "x": {
          "field": "bar",
          "type": "quantitative",
          "scale": {"domain": [0, 925], "nice": false, "zero": false},
          "axis": {
            "orient": "bottom",
            "offset": -16,
            "domain": false,
            "tickSize": 2,
            "labelPadding": 2,
            "values": [28, 109, 205, 269, 324, 380, 469, 538, 611, 662, 714, 770, 822, 874],
            "labelExpr": "{'28':'Oct','109':'16','205':'Nov','269':'13','324':'22','380':'Dec','469':'18','538':'2018','611':'15','662':'14:00','714':'Feb','770':'12','822':'14:00','874':'Mar'}[datum.value]",
            "labelFontWeight": {"condition": {"test": "datum.value === 538", "value": "bold"}, "value": "normal"}
          }
        },
        "y": {
          "field": "k",
          "type": "quantitative",
          "scale": {"domain": [-22.7, 107.3], "nice": false, "zero": false},
          "axis": {"orient": "right", "offset": -40, "domain": false, "values": [0, 25, 50, 75, 100], "format": ".4f", "tickSize": 2, "labelPadding": 2}
        }
      },
      "layer": [
        {
          "data": {"values": [{"bar": 0, "to": 885, "k": -8}]},
          "mark": {"type": "rule", "color": "#9b9b9b", "strokeWidth": 1},
          "encoding": {"x2": {"field": "to"}}
        },
        {
          "data": {"values": [{"bar": 885, "k": 107.3, "k2": -8}]},
          "mark": {"type": "rule", "color": "#b9b9b9", "strokeWidth": 2},
          "encoding": {"y2": {"field": "k2"}}
        },
        {
          "data": {"values": [{"bar": 0, "to": 885, "k": 6.5773}]},
          "mark": {"type": "rule", "color": "#2f6a14", "strokeWidth": 2},
          "encoding": {"x2": {"field": "to"}}
        },
        {
          "data": {"name": "stoch"},
          "mark": {"type": "line", "color": "#1c5ab4", "strokeWidth": 2, "interpolate": "monotone"}
        },
        {
          "data": {"values": [{"bar": 873, "to": 884, "k": 19.5, "k2": 7.6}]},
          "mark": {"type": "rect", "color": "#1a5fb4"},
          "encoding": {"x2": {"field": "to"}, "y2": {"field": "k2"}}
        },
        {
          "data": {"values": [{"bar": 878.5, "k": 13.5, "note": "D"}]},
          "mark": {"type": "text", "align": "center", "baseline": "middle", "color": "white", "fontSize": 9, "fontWeight": "bold"},
          "encoding": {"text": {"field": "note"}}
        },
        {
          "data": {"values": [{"bar": 885, "to": 915, "k": 13.1, "k2": 0.3}]},
          "mark": {"type": "rect", "color": "#3f7c1c"},
          "encoding": {"x2": {"field": "to"}, "y2": {"field": "k2"}}
        },
        {
          "data": {"values": [{"bar": 900, "k": 6.58, "note": "6.5773"}]},
          "mark": {"type": "text", "align": "center", "baseline": "middle", "color": "white", "fontSize": 9, "fontWeight": "bold"},
          "encoding": {"text": {"field": "note"}}
        },
        {
          "data": {"values": [{"bar": 4, "k": 97.8, "note": "Stoch"}]},
          "mark": {"type": "text", "align": "left", "baseline": "middle", "color": "#8a8a8a", "fontSize": 7.5},
          "encoding": {"text": {"field": "note"}}
        }
      ]
    },
    {
      "width": 925,
      "height": 22,
      "view": {"stroke": null},
      "encoding": {
        "x": {"field": "pos", "type": "quantitative", "scale": {"domain": [0, 925], "nice": false, "zero": false}, "axis": null}
      },
      "layer": [
        {
          "data": {"values": [{"pos": 0, "part": "Created with"}]},
          "mark": {"type": "text", "align": "left", "baseline": "middle", "color": "#2b2b2b", "fontSize": 8},
          "encoding": {"text": {"field": "part"}}
        },
        {
          "data": {"values": [{"pos": 50.5}]},
          "mark": {"type": "point", "filled": true, "size": 60, "color": "#5ab7e3", "shape": "M-1,0.5 C-1.3,0 -0.8,-0.4 -0.4,-0.3 C-0.3,-0.9 0.5,-0.9 0.6,-0.3 C1,-0.4 1.3,0.1 0.9,0.5 Z"}
        },
        {
          "data": {"values": [{"pos": 61, "part": "TradingView"}]},
          "mark": {"type": "text", "align": "left", "baseline": "middle", "color": "#5ab7e3", "fontSize": 8},
          "encoding": {"text": {"field": "part"}}
        }
      ]
    }
  ]
}
